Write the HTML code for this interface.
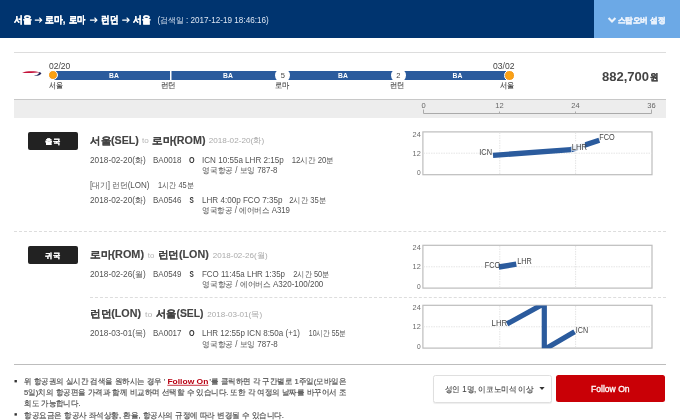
<!DOCTYPE html>
<html lang="ko"><head><meta charset="utf-8"><title>flight</title>
<style>
*{margin:0;padding:0;box-sizing:border-box}
html,body{width:680px;height:420px;overflow:hidden;background:#fff}
body{font-family:"Liberation Sans",sans-serif;color:#333;position:relative}
.a{position:absolute}
#hdr{left:0;top:0;width:680px;height:38px;background:#00346f;border-bottom:0}
#stop{left:594px;top:0;width:86px;height:38px;background:#6ca9e6}
.bar{left:54px;top:71px;width:455px;height:9px;background:#2b5b9d}
.dot{width:10.6px;height:10.6px;border-radius:50%;background:radial-gradient(circle,#ffa60a 0,#f59c1e 70%);border:1.3px solid #fff}
.wc{width:15px;height:15px;border-radius:50%;background:#fff;top:68px}
#band{left:14px;top:99px;width:652px;height:19px;background:#ededed;border-top:1px solid #c8c8c8}
.tag{left:28px;width:50px;height:18px;background:#222;border-radius:2px}
svg text{font-family:"Liberation Sans",sans-serif}
</style></head><body>
<div id="hdr" class="a"></div>
<div id="stop" class="a"></div>
<div class="a" style="left:14px;top:52px;width:652px;height:1px;background:#ddd"></div>
<div class="a bar"></div>
<div class="a dot" style="left:47.9px;top:69.8px"></div>
<div class="a dot" style="left:504.2px;top:70.2px"></div>
<div class="a wc" style="left:275.3px"></div>
<div class="a wc" style="left:391px"></div>
<div id="band" class="a"></div>
<div class="a tag" style="top:132px"></div>
<div class="a tag" style="top:246px"></div>
<div class="a" style="left:14px;top:231px;width:652px;border-top:1px dashed #ddd"></div>
<div class="a" style="left:90px;top:297px;width:576px;border-top:1px dashed #ddd"></div>
<div class="a" style="left:14px;top:364px;width:652px;height:1px;background:#bdbdbd"></div>
<div class="a" style="left:433px;top:375px;width:119px;height:28px;border:1px solid #dfdfdf;border-radius:2.5px;background:#fff;box-shadow:0 1px 1px rgba(0,0,0,.07)"></div>
<div class="a" style="left:556px;top:375px;width:109px;height:27px;background:#c90006;border-radius:2.5px"></div>
<svg class="a" style="left:0;top:0;will-change:transform" width="680" height="420" viewBox="0 0 680 420">
<!-- BA ribbon logo -->
<path d="M22 72.4 C27 70.9 35 70.6 40.3 72.4 C35 72.5 27 73.7 22 72.4Z" fill="#c4123a"/>
<path d="M34 75.9 C37.2 76.2 41 75.2 41.4 73.3 C41 72.3 39.8 72 38.6 72.2 C39.8 73.8 37.4 74.9 34 75.9Z" fill="#27285a"/>
<!-- chevron -->
<path d="M609.3 18.7 L612 21.5 L614.7 18.7" fill="none" stroke="#eaf2fc" stroke-width="2.1" stroke-linecap="square" stroke-linejoin="miter"/>
<!-- header arrows -->
<g stroke="#fff" stroke-width="1.1" fill="none" stroke-linecap="round" stroke-linejoin="round">
<path d="M35.2 20.1H41.6M39.6 18L41.8 20.1L39.6 22.2"/>
<path d="M90.4 20.1H96.8M94.8 18L97 20.1L94.8 22.2"/>
<path d="M122.6 20.1H129M127 18L129.2 20.1L127 22.2"/>
</g>
<!-- top axis -->
<path d="M423.5 109.5V113.5H651.5V109.5M499.5 111.5V113.5M575.5 111.5V113.5" fill="none" stroke="#aaa" stroke-width="1"/>
<!-- charts -->
<g fill="none" stroke="#bdbdbd" stroke-width="1.2">
<rect x="422.9" y="131.9" width="229.1" height="42.8"/>
<rect x="422.9" y="245.3" width="229.1" height="42.8"/>
<rect x="422.9" y="305.3" width="229.1" height="42.8"/>
</g>
<g fill="none" stroke="#e2e2e2" stroke-width="0.9" stroke-dasharray="1.5,1">
<path d="M499.8 132.5V174M575.6 132.5V174M423.5 153.2H651.5"/>
<path d="M499.8 246V287.5M575.6 246V287.5M423.5 266.8H651.5"/>
<path d="M499.8 306V347.5M575.6 306V347.5M423.5 326.8H651.5"/>
</g>
<clipPath id="c3"><rect x="423" y="305.4" width="229" height="42.8"/></clipPath>
<g fill="none" stroke="#2b5b9d" stroke-width="5.4">
<path d="M493 155.4L571 149.6"/>
<path d="M571 149.6L599.3 140.3"/>
<path d="M498.8 267L516.3 264.2"/>
<path d="M507 323.9L544.3 303.5V349.5L574.6 331.8" clip-path="url(#c3)" stroke-width="5.2"/>
</g>
<rect x="571.3" y="141.5" width="13.6" height="9.1" fill="#fff" opacity="0.9"/>
<rect x="14.5" y="380" width="2.4" height="2.4" fill="#333"/><rect x="14.5" y="413.2" width="2.4" height="2.4" fill="#333"/>
<rect x="170" y="70.5" width="1.5" height="10" fill="#fff"/>
<!-- select arrow -->
<path d="M539.4 387H544.6L542 390Z" fill="#333"/>
<text x="14.10" y="23.46" font-size="9.6" fill="#fff" font-weight="bold" textLength="17.70" lengthAdjust="spacingAndGlyphs" stroke="#fff" stroke-width="0.3">서울</text>
<text x="45.30" y="23.46" font-size="9.6" fill="#fff" font-weight="bold" textLength="20.00" lengthAdjust="spacingAndGlyphs" stroke="#fff" stroke-width="0.3">로마,</text>
<text x="68.80" y="23.46" font-size="9.6" fill="#fff" font-weight="bold" textLength="16.50" lengthAdjust="spacingAndGlyphs" stroke="#fff" stroke-width="0.3">로마</text>
<text x="101.00" y="23.46" font-size="9.6" fill="#fff" font-weight="bold" textLength="17.20" lengthAdjust="spacingAndGlyphs" stroke="#fff" stroke-width="0.3">런던</text>
<text x="133.00" y="23.46" font-size="9.6" fill="#fff" font-weight="bold" textLength="17.60" lengthAdjust="spacingAndGlyphs" stroke="#fff" stroke-width="0.3">서울</text>
<text x="157.50" y="22.69" font-size="8.3" fill="#dce6f3" textLength="111.20" lengthAdjust="spacingAndGlyphs">(검색일 : 2017-12-19 18:46:16)</text>
<text x="617.70" y="22.99" font-size="8.3" fill="#eaf2fc" font-weight="bold" textLength="47.80" lengthAdjust="spacingAndGlyphs" stroke="#eaf2fc" stroke-width="0.35">스탑오버 설정</text>
<text x="49.00" y="68.77" font-size="8.8" fill="#444" textLength="21.30" lengthAdjust="spacingAndGlyphs">02/20</text>
<text x="493.00" y="68.77" font-size="8.8" fill="#444" textLength="21.50" lengthAdjust="spacingAndGlyphs">03/02</text>
<text x="109.10" y="78.26" font-size="7.4" fill="#fff" font-weight="bold" textLength="9.80" lengthAdjust="spacingAndGlyphs">BA</text>
<text x="223.10" y="78.26" font-size="7.4" fill="#fff" font-weight="bold" textLength="9.80" lengthAdjust="spacingAndGlyphs">BA</text>
<text x="338.10" y="78.26" font-size="7.4" fill="#fff" font-weight="bold" textLength="9.80" lengthAdjust="spacingAndGlyphs">BA</text>
<text x="452.60" y="78.26" font-size="7.4" fill="#fff" font-weight="bold" textLength="9.80" lengthAdjust="spacingAndGlyphs">BA</text>
<text x="280.80" y="78.48" font-size="8" fill="#444" textLength="4.20" lengthAdjust="spacingAndGlyphs">5</text>
<text x="396.30" y="78.48" font-size="8" fill="#444" textLength="4.20" lengthAdjust="spacingAndGlyphs">2</text>
<text x="48.80" y="87.72" font-size="8.4" fill="#444" textLength="14.20" lengthAdjust="spacingAndGlyphs" stroke="#444" stroke-width="0.12">서울</text>
<text x="160.50" y="87.72" font-size="8.4" fill="#444" textLength="15.00" lengthAdjust="spacingAndGlyphs" stroke="#444" stroke-width="0.12">런던</text>
<text x="275.00" y="87.72" font-size="8.4" fill="#444" textLength="14.50" lengthAdjust="spacingAndGlyphs" stroke="#444" stroke-width="0.12">로마</text>
<text x="390.00" y="87.72" font-size="8.4" fill="#444" textLength="14.50" lengthAdjust="spacingAndGlyphs" stroke="#444" stroke-width="0.12">런던</text>
<text x="499.50" y="87.72" font-size="8.4" fill="#444" textLength="14.50" lengthAdjust="spacingAndGlyphs" stroke="#444" stroke-width="0.12">서울</text>
<text x="602.00" y="81.11" font-size="12.8" fill="#444" font-weight="bold" textLength="47.10" lengthAdjust="spacingAndGlyphs">882,700</text>
<text x="649.90" y="80.35" font-size="9.3" fill="#444" font-weight="bold" textLength="8.50" lengthAdjust="spacingAndGlyphs" stroke="#444" stroke-width="0.25">원</text>
<text x="421.40" y="107.98" font-size="6.9" fill="#666" textLength="4.20" lengthAdjust="spacingAndGlyphs">0</text>
<text x="495.30" y="107.98" font-size="6.9" fill="#666" textLength="8.40" lengthAdjust="spacingAndGlyphs">12</text>
<text x="571.30" y="107.98" font-size="6.9" fill="#666" textLength="8.40" lengthAdjust="spacingAndGlyphs">24</text>
<text x="647.30" y="107.98" font-size="6.9" fill="#666" textLength="8.40" lengthAdjust="spacingAndGlyphs">36</text>
<text x="45.40" y="143.63" font-size="7.3" fill="#fff" font-weight="bold" textLength="14.80" lengthAdjust="spacingAndGlyphs" stroke="#fff" stroke-width="0.15">출국</text>
<text x="45.40" y="257.63" font-size="7.3" fill="#fff" font-weight="bold" textLength="14.80" lengthAdjust="spacingAndGlyphs" stroke="#fff" stroke-width="0.15">귀국</text>
<text x="90.00" y="143.64" font-size="10.1" fill="#444" font-weight="bold" textLength="48.75" lengthAdjust="spacingAndGlyphs" stroke="#444" stroke-width="0.12">서울(SEL)</text>
<text x="142.00" y="143.34" font-size="7.6" fill="#b5b5b5" textLength="6.75" lengthAdjust="spacingAndGlyphs">to</text>
<text x="152.00" y="143.64" font-size="10.1" fill="#444" font-weight="bold" textLength="53.50" lengthAdjust="spacingAndGlyphs" stroke="#444" stroke-width="0.12">로마(ROM)</text>
<text x="208.75" y="143.31" font-size="7.8" fill="#aaa" textLength="55.50" lengthAdjust="spacingAndGlyphs">2018-02-20(화)</text>
<text x="90.00" y="258.04" font-size="10.1" fill="#444" font-weight="bold" textLength="54.00" lengthAdjust="spacingAndGlyphs" stroke="#444" stroke-width="0.12">로마(ROM)</text>
<text x="147.70" y="257.74" font-size="7.6" fill="#b5b5b5" textLength="6.60" lengthAdjust="spacingAndGlyphs">to</text>
<text x="157.70" y="258.04" font-size="10.1" fill="#444" font-weight="bold" textLength="51.05" lengthAdjust="spacingAndGlyphs" stroke="#444" stroke-width="0.12">런던(LON)</text>
<text x="212.80" y="257.71" font-size="7.8" fill="#aaa" textLength="54.80" lengthAdjust="spacingAndGlyphs">2018-02-26(월)</text>
<text x="90.00" y="317.44" font-size="10.1" fill="#444" font-weight="bold" textLength="51.00" lengthAdjust="spacingAndGlyphs" stroke="#444" stroke-width="0.12">런던(LON)</text>
<text x="145.00" y="317.14" font-size="7.6" fill="#b5b5b5" textLength="7.30" lengthAdjust="spacingAndGlyphs">to</text>
<text x="156.00" y="317.44" font-size="10.1" fill="#444" font-weight="bold" textLength="47.50" lengthAdjust="spacingAndGlyphs" stroke="#444" stroke-width="0.12">서울(SEL)</text>
<text x="207.20" y="317.11" font-size="7.8" fill="#aaa" textLength="55.10" lengthAdjust="spacingAndGlyphs">2018-03-01(목)</text>
<text x="90.00" y="162.99" font-size="8.3" fill="#525252" textLength="55.75" lengthAdjust="spacingAndGlyphs">2018-02-20(화)</text>
<text x="153.00" y="162.99" font-size="8.3" fill="#525252" textLength="28.50" lengthAdjust="spacingAndGlyphs">BA0018</text>
<text x="188.90" y="162.99" font-size="8.3" fill="#333" font-weight="bold" textLength="5.60" lengthAdjust="spacingAndGlyphs">O</text>
<text x="202.00" y="162.99" font-size="8.3" fill="#525252" textLength="81.75" lengthAdjust="spacingAndGlyphs">ICN 10:55a LHR 2:15p</text>
<text x="291.75" y="162.99" font-size="8.3" fill="#525252" textLength="42.25" lengthAdjust="spacingAndGlyphs">12시간 20분</text>
<text x="202.30" y="173.49" font-size="8.3" fill="#525252" textLength="75.20" lengthAdjust="spacingAndGlyphs">영국항공 / 보잉 787-8</text>
<text x="90.00" y="188.49" font-size="8.3" fill="#525252" textLength="59.50" lengthAdjust="spacingAndGlyphs">[대기] 런던(LON)</text>
<text x="158.00" y="188.49" font-size="8.3" fill="#525252" textLength="35.75" lengthAdjust="spacingAndGlyphs">1시간 45분</text>
<text x="90.00" y="203.29" font-size="8.3" fill="#525252" textLength="55.75" lengthAdjust="spacingAndGlyphs">2018-02-20(화)</text>
<text x="153.00" y="203.29" font-size="8.3" fill="#525252" textLength="28.50" lengthAdjust="spacingAndGlyphs">BA0546</text>
<text x="189.40" y="203.29" font-size="8.3" fill="#333" font-weight="bold" textLength="4.30" lengthAdjust="spacingAndGlyphs">S</text>
<text x="202.00" y="203.29" font-size="8.3" fill="#525252" textLength="80.50" lengthAdjust="spacingAndGlyphs">LHR 4:00p FCO 7:35p</text>
<text x="289.25" y="203.29" font-size="8.3" fill="#525252" textLength="36.75" lengthAdjust="spacingAndGlyphs">2시간 35분</text>
<text x="202.30" y="213.49" font-size="8.3" fill="#525252" textLength="87.70" lengthAdjust="spacingAndGlyphs">영국항공 / 에어버스 A319</text>
<text x="90.00" y="276.59" font-size="8.3" fill="#525252" textLength="55.75" lengthAdjust="spacingAndGlyphs">2018-02-26(월)</text>
<text x="153.00" y="276.59" font-size="8.3" fill="#525252" textLength="28.50" lengthAdjust="spacingAndGlyphs">BA0549</text>
<text x="189.40" y="276.59" font-size="8.3" fill="#333" font-weight="bold" textLength="4.30" lengthAdjust="spacingAndGlyphs">S</text>
<text x="202.00" y="276.59" font-size="8.3" fill="#525252" textLength="83.00" lengthAdjust="spacingAndGlyphs">FCO 11:45a LHR 1:35p</text>
<text x="293.30" y="276.59" font-size="8.3" fill="#525252" textLength="36.20" lengthAdjust="spacingAndGlyphs">2시간 50분</text>
<text x="202.30" y="287.39" font-size="8.3" fill="#525252" textLength="121.00" lengthAdjust="spacingAndGlyphs">영국항공 / 에어버스 A320-100/200</text>
<text x="90.00" y="336.39" font-size="8.3" fill="#525252" textLength="55.75" lengthAdjust="spacingAndGlyphs">2018-03-01(목)</text>
<text x="153.00" y="336.39" font-size="8.3" fill="#525252" textLength="28.50" lengthAdjust="spacingAndGlyphs">BA0017</text>
<text x="188.90" y="336.39" font-size="8.3" fill="#333" font-weight="bold" textLength="5.60" lengthAdjust="spacingAndGlyphs">O</text>
<text x="202.00" y="336.39" font-size="8.3" fill="#525252" textLength="98.00" lengthAdjust="spacingAndGlyphs">LHR 12:55p ICN 8:50a (+1)</text>
<text x="308.80" y="336.39" font-size="8.3" fill="#525252" textLength="37.20" lengthAdjust="spacingAndGlyphs">10시간 55분</text>
<text x="202.30" y="346.99" font-size="8.3" fill="#525252" textLength="75.50" lengthAdjust="spacingAndGlyphs">영국항공 / 보잉 787-8</text>
<text x="412.60" y="136.71" font-size="6.7" fill="#6a6a6a" textLength="8.20" lengthAdjust="spacingAndGlyphs">24</text>
<text x="412.60" y="155.96" font-size="6.7" fill="#6a6a6a" textLength="8.20" lengthAdjust="spacingAndGlyphs">12</text>
<text x="417.10" y="175.41" font-size="6.7" fill="#6a6a6a" textLength="3.70" lengthAdjust="spacingAndGlyphs">0</text>
<text x="412.60" y="250.01" font-size="6.7" fill="#6a6a6a" textLength="8.20" lengthAdjust="spacingAndGlyphs">24</text>
<text x="412.60" y="269.31" font-size="6.7" fill="#6a6a6a" textLength="8.20" lengthAdjust="spacingAndGlyphs">12</text>
<text x="417.10" y="288.81" font-size="6.7" fill="#6a6a6a" textLength="3.70" lengthAdjust="spacingAndGlyphs">0</text>
<text x="412.60" y="310.01" font-size="6.7" fill="#6a6a6a" textLength="8.20" lengthAdjust="spacingAndGlyphs">24</text>
<text x="412.60" y="329.31" font-size="6.7" fill="#6a6a6a" textLength="8.20" lengthAdjust="spacingAndGlyphs">12</text>
<text x="417.10" y="348.81" font-size="6.7" fill="#6a6a6a" textLength="3.70" lengthAdjust="spacingAndGlyphs">0</text>
<text x="479.30" y="155.38" font-size="9.1" fill="#444" textLength="12.70" lengthAdjust="spacingAndGlyphs">ICN</text>
<text x="571.70" y="150.18" font-size="9.1" fill="#444" textLength="15.30" lengthAdjust="spacingAndGlyphs">LHR</text>
<text x="599.20" y="140.48" font-size="9.1" fill="#444" textLength="15.40" lengthAdjust="spacingAndGlyphs">FCO</text>
<text x="484.80" y="267.98" font-size="9.1" fill="#444" textLength="15.50" lengthAdjust="spacingAndGlyphs">FCO</text>
<text x="517.20" y="264.38" font-size="9.1" fill="#444" textLength="14.60" lengthAdjust="spacingAndGlyphs">LHR</text>
<text x="491.60" y="325.68" font-size="9.1" fill="#444" textLength="15.70" lengthAdjust="spacingAndGlyphs">LHR</text>
<text x="575.80" y="333.28" font-size="9.1" fill="#444" textLength="12.30" lengthAdjust="spacingAndGlyphs">ICN</text>
<text x="24.10" y="383.72" font-size="8.1" fill="#505050" textLength="141.10" lengthAdjust="spacingAndGlyphs" stroke="#555" stroke-width="0.18">위 항공권의 실시간 검색을 원하시는 경우 '</text>
<text x="167.40" y="383.82" font-size="8.1" fill="#b80012" font-weight="bold" textLength="41.00" lengthAdjust="spacingAndGlyphs" text-decoration="underline">Follow On</text>
<text x="209.60" y="383.72" font-size="8.1" fill="#505050" textLength="136.80" lengthAdjust="spacingAndGlyphs" stroke="#555" stroke-width="0.18">'를 클릭하면 각 구간별로 1주일(모바일은</text>
<text x="24.10" y="395.02" font-size="8.1" fill="#505050" textLength="322.30" lengthAdjust="spacingAndGlyphs" stroke="#555" stroke-width="0.18">5일)치의 항공편을 가격과 함께 비교하며 선택할 수 있습니다. 또한 각 여정의 날짜를 바꾸어서 조</text>
<text x="24.10" y="406.22" font-size="8.1" fill="#505050" textLength="56.40" lengthAdjust="spacingAndGlyphs" stroke="#555" stroke-width="0.18">회도 가능합니다.</text>
<text x="24.10" y="417.52" font-size="8.1" fill="#505050" textLength="259.80" lengthAdjust="spacingAndGlyphs" stroke="#555" stroke-width="0.18">항공요금은 항공사 좌석상황, 환율, 항공사의 규정에 따라 변경될 수 있습니다.</text>
<text x="444.90" y="391.99" font-size="8.3" fill="#3c3c3c" textLength="88.70" lengthAdjust="spacingAndGlyphs" stroke="#3c3c3c" stroke-width="0.1">성인 1명, 이코노미석 이상</text>
<text x="591.00" y="392.17" font-size="8.8" fill="#fff" textLength="38.60" lengthAdjust="spacingAndGlyphs" stroke="#fff" stroke-width="0.3">Follow On</text>
</svg>
</body></html>
